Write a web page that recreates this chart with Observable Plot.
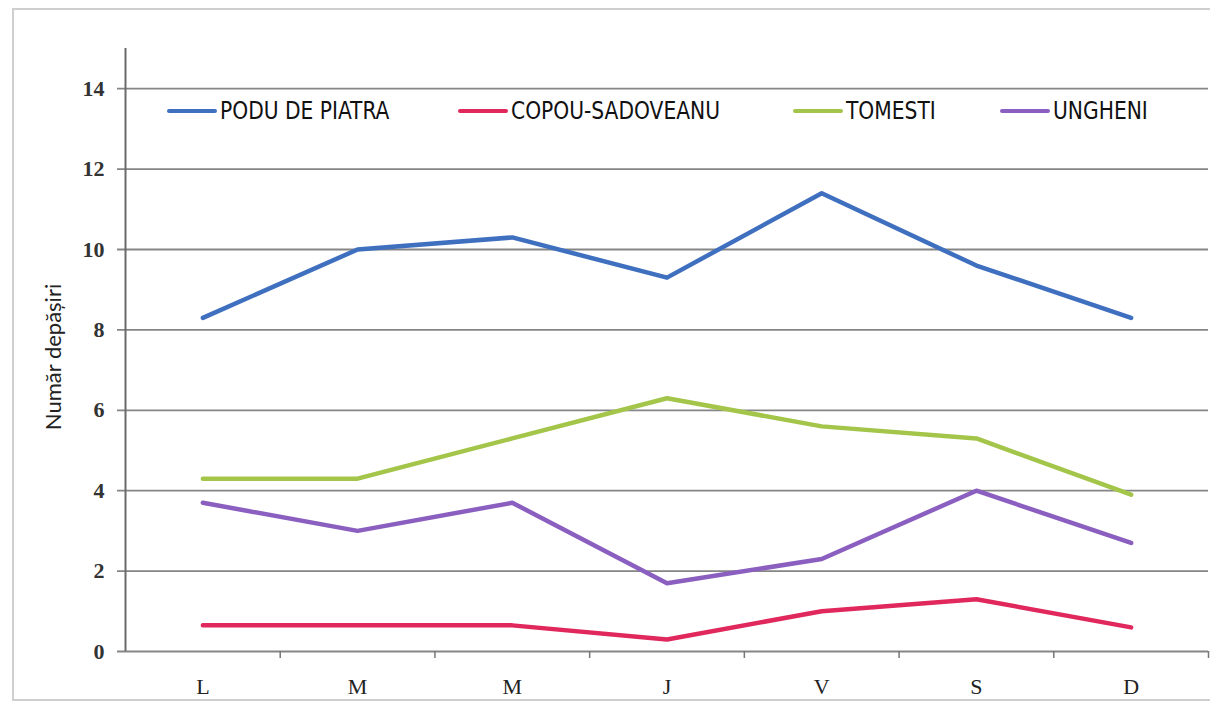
<!DOCTYPE html>
<html><head><meta charset="utf-8">
<script src="https://cdn.jsdelivr.net/npm/d3@7"></script>
<script src="https://cdn.jsdelivr.net/npm/@observablehq/plot@0.6"></script>
<style>
body{margin:0;background:#fff;}
#wrap{position:relative;width:1210px;height:704px;overflow:hidden;background:#fff;}
#frame{position:absolute;left:12px;top:8px;width:1300px;height:693px;border:2px solid #cfcfcf;box-sizing:border-box;pointer-events:none;}
#chart{position:absolute;left:0;top:0;}
#ytitle{position:absolute;left:52px;top:357px;transform:translate(-50%,-50%) rotate(-90deg);font-family:Lato,"Open Sans",sans-serif;font-size:22px;color:#222;white-space:nowrap;}
.leg{position:absolute;top:96px;display:flex;align-items:center;font-family:"Liberation Sans Narrow","DejaVu Sans Condensed",sans-serif;font-size:25px;color:#111;white-space:nowrap;}
.leg .txt{display:inline-block;transform:scaleX(0.9);transform-origin:left center;}
.leg span.sw{display:inline-block;width:50px;height:4px;margin-right:3px;border-radius:2px;}
</style></head>
<body>
<div id="wrap">
  <div id="chart"></div>
  <div id="ytitle"></div>
  <div id="legend"></div>
  <div id="frame"></div>
</div>
<script>
const days = ["L","M","M","J","V","S","D"];
const seriesNames = ["PODU DE PIATRA","COPOU-SADOVEANU","TOMESTI","UNGHENI"];
const poduDePiatra = [8.3,10.0,10.3,9.3,11.4,9.6,8.3];
const copouSadoveanu = [0.65,0.65,0.65,0.3,1.0,1.3,0.6];
const tomesti = [4.3,4.3,5.3,6.3,5.6,5.3,3.9];
const ungheni = [3.7,3.0,3.7,1.7,2.3,4.0,2.7];
const seriesColors = ["#3f6fbf","#e0285c","#a3c54a","#8a5fc0"];
const yTicks = [0,2,4,6,8,10,12,14];
const yTitle = "Număr depășiri";
const legendLeft = [167,458,793,1000];

const values = [poduDePiatra, copouSadoveanu, tomesti, ungheni];
const data = [];
seriesNames.forEach((s, k) => values[k].forEach((v, i) => data.push({series: s, i, value: v})));

const plot = Plot.plot({
  width: 1210, height: 704,
  marginLeft: 125, marginRight: 2, marginTop: 48, marginBottom: 53,
  x: {type: "linear", domain: [0, days.length], axis: null},
  y: {domain: [0, 15], axis: null},
  color: {domain: seriesNames, range: seriesColors},
  style: {background: "transparent", overflow: "visible"},
  marks: [
    Plot.ruleY(yTicks, {stroke: "#858585", strokeWidth: 1.8, insetLeft: -8}),
    Plot.ruleX([0], {y1: 0, y2: 15, stroke: "#6a6a6a", strokeWidth: 2}),
    Plot.axisY({ticks: yTicks, label: null, tickSize: 0, tickPadding: 21, fontSize: 22, fontWeight: "bold", fontFamily: "Liberation Serif, serif", fill: "#333", stroke: null}),
    Plot.axisX({ticks: d3.range(1, days.length + 1), label: null, tickSize: 7, tickFormat: () => "", stroke: "#777", strokeWidth: 1.5}),
    Plot.axisX({ticks: d3.range(days.length).map(i => i + 0.5), label: null, tickSize: 0, tickPadding: 27, tickFormat: v => days[Math.floor(v)], fontSize: 22, fontFamily: "Liberation Serif, serif", fill: "#222"}),
    Plot.line(data, {x: d => d.i + 0.5, y: "value", z: "series", stroke: "series", strokeWidth: 4.5, strokeLinejoin: "round", strokeLinecap: "round"})
  ]
});
document.getElementById("chart").appendChild(plot);
document.getElementById("ytitle").textContent = yTitle;
const leg = document.getElementById("legend");
seriesNames.forEach((s, k) => {
  const d = document.createElement("div");
  d.className = "leg";
  d.style.left = legendLeft[k] + "px";
  const sw = document.createElement("span");
  sw.className = "sw";
  sw.style.background = seriesColors[k];
  d.appendChild(sw);
  const t = document.createElement("span");
  t.className = "txt";
  t.textContent = s;
  d.appendChild(t);
  leg.appendChild(d);
});
</script>
</body></html>
